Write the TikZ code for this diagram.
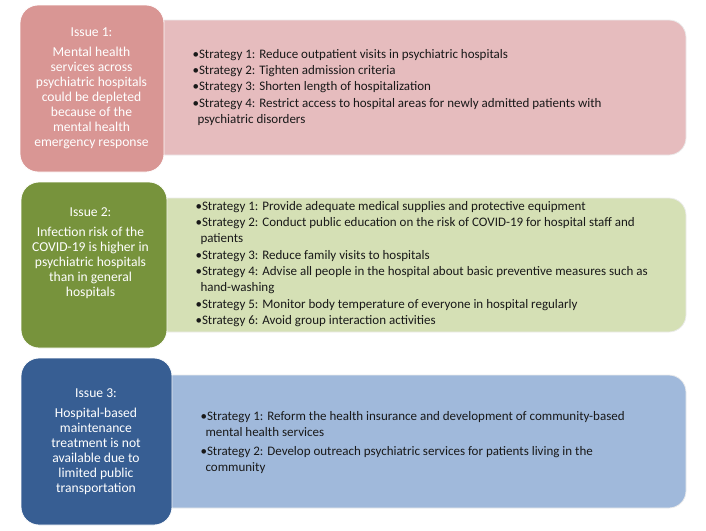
\documentclass[tikz,border=0pt]{standalone}
\usepackage{fontspec}
\setmainfont{Carlito}
\usetikzlibrary{positioning}

% box colours
\definecolor{issuered}{HTML}{D99694}
\definecolor{planred}{HTML}{E6BCBE}
\definecolor{issuegreen}{HTML}{77933C}
\definecolor{plangreen}{HTML}{D5E0B5}
\definecolor{issueblue}{HTML}{375E93}
\definecolor{planblue}{HTML}{A0B9DB}

\tikzset{
    issuebox/.style={draw=white, line width=0.8pt, rounded corners=18pt, inner sep=0pt},
    planbox/.style={draw=white!85!gray, line width=0.8pt, rounded corners=17pt, inner sep=0pt},
    issuetext/.style={text=white, align=center, font=\fontsize{13.6}{15}\selectfont},
    plantext/.style={text=black!90, align=left, anchor=west, font=\fontsize{13}{16.3}\selectfont},
}

\begin{document}
\begin{tikzpicture}[x=1pt, y=-1pt]
    \useasboundingbox (0,0) rectangle (706,530);

    % strategy boxes (left side hidden behind the issue boxes)
    \node[planbox, fill=planred, minimum width=566, minimum height=135] (p1) at (403,87.5) {};
    \node[planbox, fill=plangreen, minimum width=566, minimum height=134] (p2) at (403,265) {};
    \node[planbox, fill=planblue, minimum width=566, minimum height=133] (p3) at (403,441.5) {};

    % issue boxes
    \node[issuebox, fill=issuered, minimum width=144, minimum height=167] (i1) at (92,88.5) {};
    \node[issuebox, fill=issuegreen, minimum width=146, minimum height=166] (i2) at (94,265) {};
    \node[issuebox, fill=issueblue, minimum width=151, minimum height=167] (i3) at (96.5,441.5) {};

    % issue texts
    \node[issuetext] (t1) at (91.5,88) {Issue 1:\\[5pt]Mental health\\services across\\psychiatric hospitals\\could be depleted\\because of the\\mental health\\emergency response};
    \node[issuetext] (t2) at (90.5,253) {Issue 2:\\[5pt]Infection risk of the\\COVID-19 is higher in\\psychiatric hospitals\\than in general\\hospitals};
    \node[issuetext] (t3) at (96,441.5) {Issue 3:\\[5pt]Hospital-based\\maintenance\\treatment is not\\available due to\\limited public\\transportation};

    % strategy texts
    \node[plantext] (s1) at (189,87.5) {%
        •Strategy 1: Reduce outpatient visits in psychiatric hospitals\\
        •Strategy 2: Tighten admission criteria\\
        •Strategy 3: Shorten length of hospitalization\\
        •Strategy 4: Restrict access to hospital areas for newly admitted patients with\\
        \hspace*{5pt}psychiatric disorders};
    \node[plantext] (s2) at (192,264) {%
        •Strategy 1: Provide adequate medical supplies and protective equipment\\
        •Strategy 2: Conduct public education on the risk of COVID-19 for hospital staff and\\
        \hspace*{5pt}patients\\
        •Strategy 3: Reduce family visits to hospitals\\
        •Strategy 4: Advise all people in the hospital about basic preventive measures such as\\
        \hspace*{5pt}hand-washing\\
        •Strategy 5: Monitor body temperature of everyone in hospital regularly\\
        •Strategy 6: Avoid group interaction activities};
    \node[plantext] (s3) at (197,442.5) {%
        •Strategy 1: Reform the health insurance and development of community-based\\
        \hspace*{5pt}mental health services\\[2pt]
        •Strategy 2: Develop outreach psychiatric services for patients living in the\\
        \hspace*{5pt}community};
\end{tikzpicture}
\end{document}
